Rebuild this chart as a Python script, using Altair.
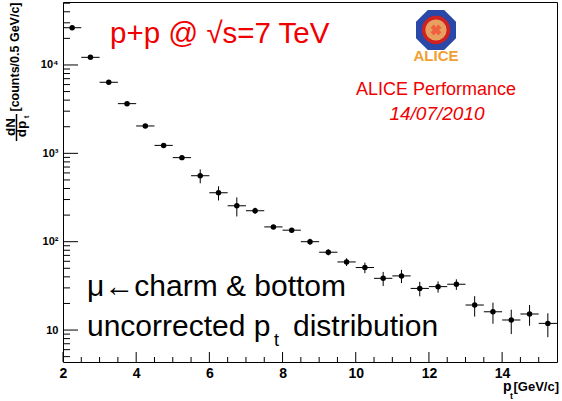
import altair as alt
import pandas as pd

# ---- data ----
pt_center = [2.25, 2.75, 3.25, 3.75, 4.25, 4.75, 5.25, 5.75, 6.25, 6.75, 7.25, 7.75, 8.25, 8.75,
             9.25, 9.75, 10.25, 10.75, 11.25, 11.75, 12.25, 12.75, 13.25, 13.75, 14.25, 14.75, 15.25]
counts = [26400, 12200, 6370, 3650, 2040, 1230, 894, 558, 358, 255, 224, 147, 135, 100,
          76, 59, 51, 38.5, 41, 29.6, 31, 33, 19.2, 16.1, 13.0, 15.2, 11.9]
count_err = [600, 300, 180, 110, 70, 40, 45, 100, 65, 62, 18, 8, 7, 8,
             6, 6, 7, 7, 7, 5.5, 4.5, 4.5, 5, 4.3, 4.0, 4.0, 3.6]
bin_half = [0.25] * len(pt_center)

x_major_ticks = [2, 4, 6, 8, 10, 12, 14]
x_minor_ticks = [2.5, 3, 3.5, 4.5, 5, 5.5, 6.5, 7, 7.5, 8.5, 9, 9.5, 10.5, 11, 11.5,
                 12.5, 13, 13.5, 14.5, 15]
y_major_ticks = [10, 100, 1000, 10000]
y_minor_ticks = [5, 6, 7, 8, 9, 20, 30, 40, 50, 60, 70, 80, 90,
                 200, 300, 400, 500, 600, 700, 800, 900,
                 2000, 3000, 4000, 5000, 6000, 7000, 8000, 9000,
                 20000, 30000, 40000, 50000]

df = pd.DataFrame({"pt": pt_center, "n": counts, "err": count_err, "hw": bin_half})
df["lo"] = df["n"] - df["err"]
df["hi"] = df["n"] + df["err"]
df["xlo"] = df["pt"] - df["hw"]
df["xhi"] = df["pt"] + df["hw"]

W, H = 494, 360
FONT = "Liberation Sans"
RED = "#f00000"

xs = alt.Scale(domain=[2, 15.5], nice=False, zero=False)
ys = alt.Scale(type="log", domain=[4.35, 51600], nice=False)

x_axis = alt.Axis(values=x_major_ticks, ticks=False, domain=False, grid=False,
                  labelFont=FONT, labelFontSize=14, labelFontWeight="bold",
                  labelColor="black", labelPadding=4, title=None, labelFlush=False)
y_axis = alt.Axis(values=y_major_ticks, ticks=False, domain=False, grid=False,
                  labelFont=FONT, labelFontSize=11, labelFontWeight="bold",
                  labelColor="black", labelPadding=5, title=None,
                  labelExpr="datum.value >= 10000 ? '10⁴' : datum.value >= 1000 ? '10³' : datum.value >= 100 ? '10²' : '10'")

base = alt.Chart(df)

hbar = base.mark_rule(color="black", strokeWidth=1).encode(
    x=alt.X("xlo:Q", scale=xs, axis=x_axis), x2="xhi:Q",
    y=alt.Y("n:Q", scale=ys, axis=y_axis))
vbar = base.mark_rule(color="black", strokeWidth=1).encode(
    x=alt.X("pt:Q", scale=xs, axis=x_axis),
    y=alt.Y("lo:Q", scale=ys, axis=y_axis), y2="hi:Q")
pts = base.mark_circle(color="black", size=30, opacity=1).encode(
    x=alt.X("pt:Q", scale=xs, axis=x_axis),
    y=alt.Y("n:Q", scale=ys, axis=y_axis))

# axis ticks drawn inside the frame (ROOT style)
ytmaj = alt.Chart(pd.DataFrame({"v": y_major_ticks})).mark_rule(color="black").encode(
    y=alt.Y("v:Q", scale=ys, axis=y_axis), x=alt.value(0), x2=alt.value(15))
ytmin = alt.Chart(pd.DataFrame({"v": y_minor_ticks})).mark_rule(color="black").encode(
    y=alt.Y("v:Q", scale=ys, axis=y_axis), x=alt.value(0), x2=alt.value(7))
xtmaj = alt.Chart(pd.DataFrame({"v": x_major_ticks})).mark_rule(color="black").encode(
    x=alt.X("v:Q", scale=xs, axis=x_axis), y=alt.value(H), y2=alt.value(H - 10))
xtmin = alt.Chart(pd.DataFrame({"v": x_minor_ticks})).mark_rule(color="black").encode(
    x=alt.X("v:Q", scale=xs, axis=x_axis), y=alt.value(H), y2=alt.value(H - 5))


def txt(s, x, y, size, color="black", align="left", weight="normal", style="normal",
        angle=0, baseline="alphabetic"):
    return alt.Chart(pd.DataFrame({"t": [s]})).mark_text(
        font=FONT, fontSize=size, color=color, align=align, fontWeight=weight,
        fontStyle=style, angle=angle, baseline=baseline).encode(
        text="t:N", x=alt.value(x), y=alt.value(y))


# logo (approximation)
octa = "M-0.41,-1L0.41,-1L1,-0.41L1,0.41L0.41,1L-0.41,1L-1,0.41L-1,-0.41Z"
logo_bg = alt.Chart(pd.DataFrame({"a": [0]})).mark_point(
    shape=octa, filled=True, color="#2a48a8", size=1600, opacity=1).encode(
    x=alt.value(373), y=alt.value(28))
logo_ring = alt.Chart(pd.DataFrame({"a": [0]})).mark_point(
    shape="circle", filled=True, color="#d02020", size=800, opacity=1).encode(
    x=alt.value(373), y=alt.value(28))
logo_core = alt.Chart(pd.DataFrame({"a": [0]})).mark_point(
    shape="circle", filled=True, color="#e8a060", size=450, opacity=1).encode(
    x=alt.value(373), y=alt.value(28))
logo_star = alt.Chart(pd.DataFrame({"a": [0]})).mark_point(
    shape="cross", filled=True, color="#f06040", size=120, opacity=1, angle=45).encode(
    x=alt.value(373), y=alt.value(28))

texts = [
    txt("p+p @ √s=7 TeV", 47, 41, 29.5, RED),
    txt("ALICE", 373, 59, 15, "#f0a030", align="center", weight="bold"),
    txt("ALICE Performance", 373, 93, 18, RED, align="center"),
    txt("14/07/2010", 374, 118, 19, RED, align="center", style="italic"),
    txt("μ←charm & bottom", 24, 294, 30),
    txt("uncorrected p", 24, 334, 30),
    txt("t", 211, 344, 18),
    txt("distribution", 230, 334, 30),
    txt("p", 440, 389, 14, weight="bold"),
    txt("t", 447, 397, 9, weight="bold"),
    txt("[GeV/c]", 496, 389, 13, align="right", weight="bold"),
    txt("[counts/0.5 GeV/c]", -48, 55, 12.5, align="center", angle=270, weight="bold", baseline="middle"),
    txt("dN", -52, 125, 13.5, align="center", angle=270, weight="bold", baseline="middle"),
    txt("dp", -41, 127, 13.5, align="center", angle=270, weight="bold", baseline="middle"),
    txt("t", -36, 115, 8, align="center", angle=270, weight="bold", baseline="middle"),
]
frac = alt.Chart(pd.DataFrame({"a": [0]})).mark_rule(color="black", strokeWidth=1.5).encode(
    x=alt.value(-46.5), y=alt.value(112), y2=alt.value(139))

chart = alt.layer(
    ytmaj, ytmin, xtmaj, xtmin, hbar, vbar, pts,
    logo_bg, logo_ring, logo_core, logo_star, frac, *texts
).properties(
    width=W, height=H,
    padding={"left": 63, "top": 2, "right": 5, "bottom": 39},
    autosize=alt.AutoSizeParams(type="none"),
    background="white",
).configure_view(stroke="black", strokeWidth=1)

chart.save("out.html", embed_options={"renderer": "svg", "actions": False})
